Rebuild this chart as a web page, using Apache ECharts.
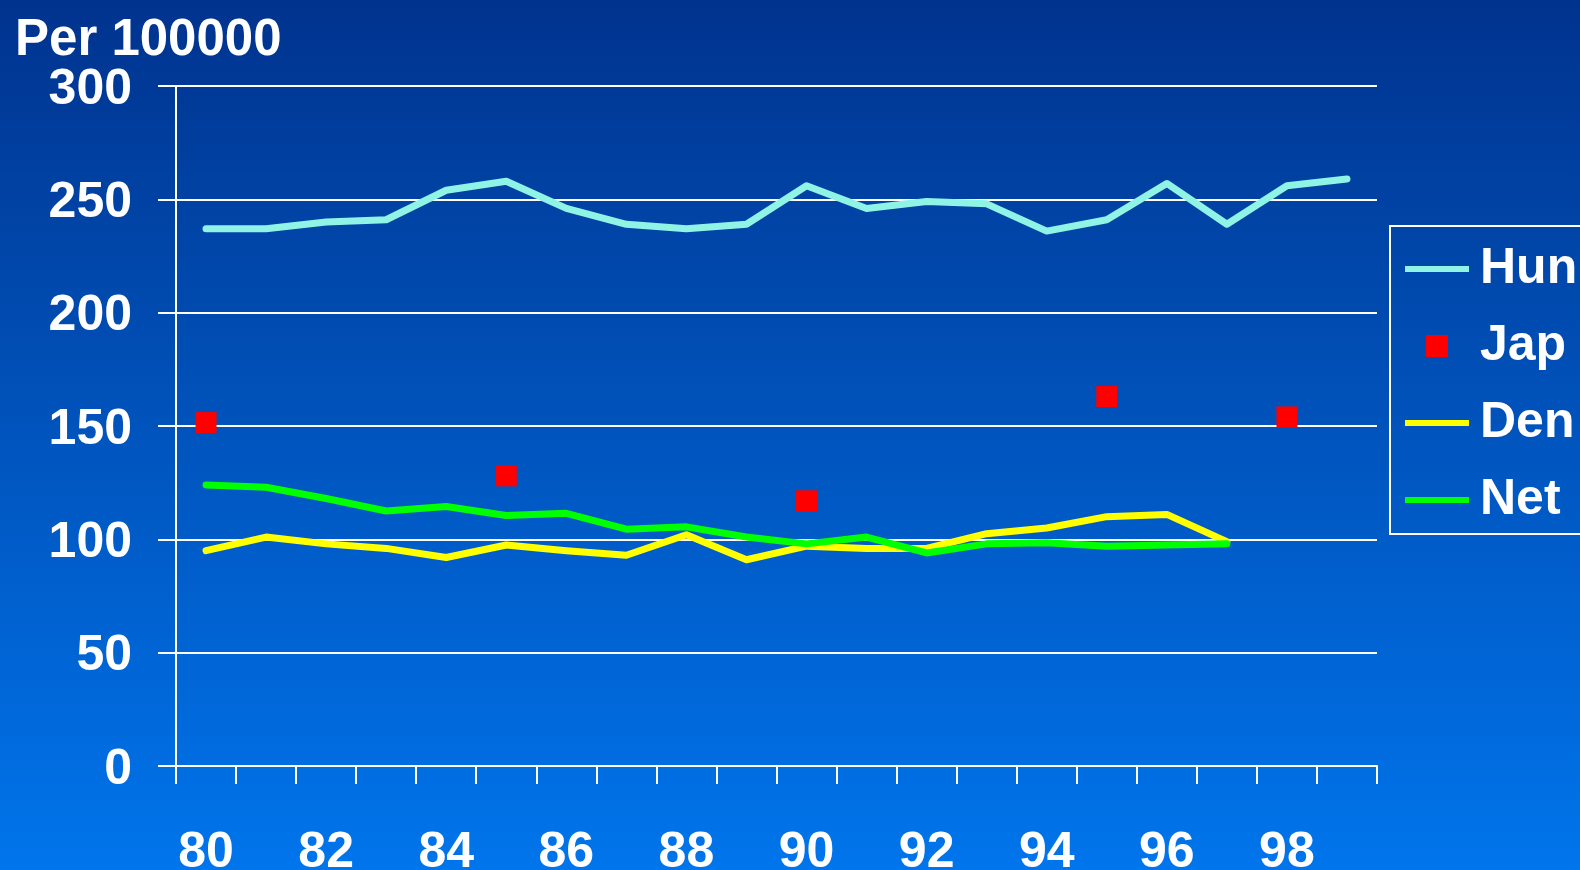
<!DOCTYPE html>
<html>
<head>
<meta charset="utf-8">
<script src="https://cdn.jsdelivr.net/npm/echarts@6/dist/echarts.min.js"></script>
<style>
  html, body { margin: 0; padding: 0; }
  #chart { width: 1580px; height: 870px; }
</style>
</head>
<body>
<div id="chart"></div>
<script>
const years = ['80', '81', '82', '83', '84', '85', '86', '87', '88', '89',
  '90', '91', '92', '93', '94', '95', '96', '97', '98', '99']
const hun = [237, 237, 240, 241, 254, 258, 246, 239, 237, 239, 256, 246, 249, 248, 236, 241, 257, 239, 256, 259]
const jap = [151.5, null, null, null, null, 128, null, null, null, null, 117, null, null, null, null, 163, null, null, 154, null]
const den = [95, 101, 98, 96, 92, 97.5, 95, 93, 102, 91, 97, 96, 96, 102.5, 105, 110, 111, 99, null, null]
const net = [124, 123, 118, 112.5, 114.5, 110.5, 111.5, 104.5, 105.5, 101, 98, 101, 94, 98, 98.5, 97, 97.5, 98, null, null]

const font = 'Liberation Sans, Arial, sans-serif'
const lineIcon = 'path://M0,0H64V6H0Z'
const squareIcon = 'path://M0,0H22V22H0Z'

let chart = echarts.init(document.getElementById('chart'))
let option = {
  animation: false,
  backgroundColor: new echarts.graphic.LinearGradient(0, 0, 0, 1, [
    {offset: 0, color: '#00338e'},
    {offset: 1, color: '#0075ec'}
  ]),
  title: {
    text: 'Per 100000',
    left: 10,
    top: 10,
    textStyle: {
      color: '#fff',
      fontFamily: font,
      fontSize: 51,
      fontWeight: 'bold'
    }
  },
  legend: {
    orient: 'vertical',
    left: 1390,
    top: 226,
    padding: [18, 20, 9, 15],
    borderColor: '#fff',
    borderWidth: 2,
    itemWidth: 64,
    itemHeight: 22,
    itemGap: 27,
    textStyle: {
      color: '#fff',
      fontFamily: font,
      fontSize: 50,
      fontWeight: 'bold',
      lineHeight: 50,
      padding: [0, 0, 0, 6]
    },
    data: [
      {name: 'Hun', icon: lineIcon},
      {name: 'Jap', icon: squareIcon},
      {name: 'Den', icon: lineIcon},
      {name: 'Net', icon: lineIcon}
    ]
  },
  grid: {
    left: 176,
    right: 203,
    top: 86,
    bottom: 104,
    outerBoundsMode: 'none'
  },
  xAxis: {
    type: 'category',
    data: years,
    boundaryGap: true,
    axisLine: {lineStyle: {color: '#fff', width: 2}},
    axisTick: {
      show: true,
      interval: 0,
      length: 18,
      lineStyle: {color: '#fff', width: 2}
    },
    axisLabel: {
      interval: 1,
      margin: 62,
      color: '#fff',
      fontFamily: font,
      fontSize: 50,
      fontWeight: 'bold'
    },
    splitLine: {show: false}
  },
  yAxis: {
    type: 'value',
    min: 0,
    max: 300,
    interval: 50,
    axisLine: {show: true, lineStyle: {color: '#fff', width: 2}},
    axisTick: {
      show: true,
      length: 18,
      lineStyle: {color: '#fff', width: 2}
    },
    axisLabel: {
      margin: 44,
      formatter: '{v|{value}}',
      rich: {
        v: {
          padding: [8, 0, 0, 0],
          color: '#fff',
          fontFamily: font,
          fontSize: 50,
          fontWeight: 'bold'
        }
      }
    },
    splitLine: {lineStyle: {color: '#fff', width: 2}}
  },
  series: [
    {
      name: 'Hun',
      type: 'line',
      symbol: 'none',
      color: '#8ff4e6',
      lineStyle: {width: 7, cap: 'round', join: 'round'},
      data: hun
    },
    {
      name: 'Jap',
      type: 'scatter',
      symbol: 'rect',
      symbolSize: 21,
      color: '#ff0000',
      itemStyle: {opacity: 1},
      data: jap
    },
    {
      name: 'Den',
      type: 'line',
      symbol: 'none',
      color: '#ffff00',
      lineStyle: {width: 7, cap: 'round', join: 'round'},
      data: den
    },
    {
      name: 'Net',
      type: 'line',
      symbol: 'none',
      color: '#00ff00',
      lineStyle: {width: 7, cap: 'round', join: 'round'},
      data: net
    }
  ]
}
chart.setOption(option)
</script>
</body>
</html>
